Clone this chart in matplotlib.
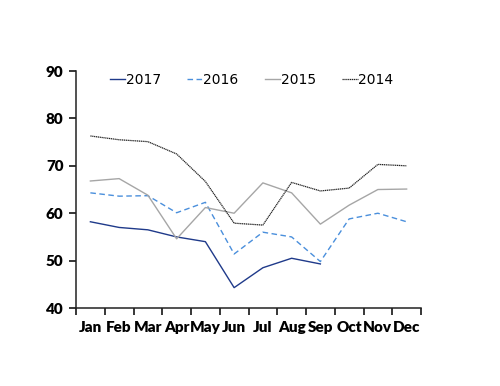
import matplotlib.pyplot as plt
import numpy as np

months = ["Jan", "Feb", "Mar", "Apr", "May", "Jun", "Jul", "Aug", "Sep", "Oct", "Nov", "Dec"]
y2017 = [58.2, 57.0, 56.5, 55.0, 54.0, 44.3, 48.5, 50.5, 49.3]
y2016 = [64.3, 63.6, 63.7, 60.1, 62.3, 51.4, 56.0, 55.0, 49.8, 58.8, 60.0, 58.2]
y2015 = [66.8, 67.3, 63.8, 54.6, 61.2, 60.0, 66.4, 64.3, 57.7, 61.7, 65.0, 65.1]
y2014 = [76.3, 75.5, 75.1, 72.5, 66.7, 57.9, 57.5, 66.5, 64.7, 65.3, 70.3, 70.0]

fig = plt.figure(figsize=(5, 3.86), dpi=100)
ax = fig.add_axes([0.152, 0.202, 0.69, 0.614])

x = np.arange(len(months))
ax.plot(x[:len(y2017)], y2017, color="#1f3a8a", lw=1.0, label="2017")
ax.plot(x, y2016, color="#4a8fdc", lw=1.0, ls=(0, (4, 2.5)), label="2016")
ax.plot(x, y2015, color="#a6a6a6", lw=1.0, label="2015")
ax.plot(x, y2014, color="#222222", lw=0.9, ls=(0, (1, 0.5)), label="2014")

ax.set_xlim(-0.5, 11.5)
ax.set_ylim(40, 90)
ax.set_yticks([40, 50, 60, 70, 80, 90])
ax.set_xticks(x)
ax.set_xticklabels(months)
ax.set_xticks(np.arange(-0.5, 12, 1), minor=True)
ax.tick_params(axis="x", which="major", length=0, pad=9)
ax.tick_params(axis="x", which="minor", length=5, direction="out", width=1.1)
ax.tick_params(axis="y", length=5, direction="out", pad=4, width=1.1)
for lbl in ax.get_xticklabels() + ax.get_yticklabels():
    lbl.set_family("Lato")
    lbl.set_fontweight("heavy")
    lbl.set_fontsize(11)

for side in ["left", "bottom"]:
    ax.spines[side].set_linewidth(1.1)
    ax.spines[side].set_color("#222222")
ax.spines["top"].set_visible(False)
ax.spines["right"].set_visible(False)

ax.legend(loc="center", ncol=4, frameon=False, fontsize=10,
          handlelength=1.1, handletextpad=0.05, columnspacing=1.9,
          bbox_to_anchor=(0.509, 0.964), borderpad=0)

fig.savefig("out.png", dpi=100)
